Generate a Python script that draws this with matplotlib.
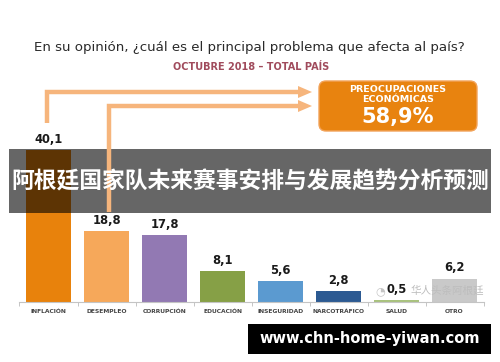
import matplotlib
matplotlib.use("Agg")
import matplotlib.pyplot as plt
from matplotlib.patches import FancyBboxPatch, Rectangle, Polygon

plt.rcParams["font.family"] = ["DejaVu Sans", "Noto Sans CJK SC"]

# ---------------------------------------------------------------------------
# Data
# ---------------------------------------------------------------------------
categories = ["INFLACIÓN", "DESEMPLEO", "CORRUPCIÓN", "EDUCACIÓN",
              "INSEGURIDAD", "NARCOTRÁFICO", "SALUD", "OTRO"]
values = [40.1, 18.8, 17.8, 8.1, 5.6, 2.8, 0.5, 6.2]
value_labels = ["40,1", "18,8", "17,8", "8,1", "5,6", "2,8", "0,5", "6,2"]
bar_colors = ["#E8820C", "#F6A85A", "#9279B3", "#86A046",
              "#5B9AD0", "#2C5A92", "#A9C27E", "#C9C9C9"]

title = "En su opinión, ¿cuál es el principal problema que afecta al país?"
subtitle = "OCTUBRE 2018 – TOTAL PAÍS"
box_lines = ["PREOCUPACIONES", "ECONÓMICAS"]
box_value = "58,9%"
banner = "阿根廷国家队未来赛事安排与发展趋势分析预测"
watermark = "华人头条阿根廷"
site = "www.chn-home-yiwan.com"

W, H = 500, 362
fig = plt.figure(figsize=(W / 100, H / 100), dpi=100)
fig.patch.set_facecolor("white")


def px(x0, y0, x1, y1):
    """Pixel box (top-left origin) -> figure fraction rect."""
    return [x0 / W, 1 - y1 / H, (x1 - x0) / W, (y1 - y0) / H]


# ---------------------------------------------------------------------------
# Bars
# ---------------------------------------------------------------------------
ax = fig.add_axes(px(19.5, 113, 483.5, 302))
xs = range(len(categories))
ax.bar(xs, values, width=0.78, color=bar_colors, zorder=2)
ax.set_xlim(-0.5, len(categories) - 0.5)
ax.set_ylim(0, 50)
for x, v, lab in zip(xs, values, value_labels):
    ax.annotate(lab, (x, v), xytext=(0, 3), textcoords="offset points",
                ha="center", va="bottom", fontsize=8.3, fontweight="bold",
                color="#1a1a1a")
ax.set_xticks(list(xs))
ax.set_xticklabels(categories, fontsize=4.3, fontweight="bold", color="#444444")
ax.tick_params(axis="x", which="major", length=0, pad=5)
ax.set_xticks([i - 0.5 for i in range(len(categories) + 1)], minor=True)
ax.tick_params(axis="x", which="minor", length=3, color="#bbbbbb", direction="out")
ax.set_yticks([])
for s in ("top", "left", "right"):
    ax.spines[s].set_visible(False)
ax.spines["bottom"].set_color("#c4c4c4")
ax.spines["bottom"].set_linewidth(0.8)
ax.patch.set_alpha(0)

# ---------------------------------------------------------------------------
# Overlay in pixel coordinates
# ---------------------------------------------------------------------------
ov = fig.add_axes([0, 0, 1, 1], zorder=5)
ov.set_xlim(0, W)
ov.set_ylim(H, 0)
ov.axis("off")
ov.patch.set_alpha(0)

ov.text(249, 48, title, ha="center", va="center", fontsize=9.6, color="#2a2a2a")
ov.text(251, 67, subtitle, ha="center", va="center", fontsize=7,
        fontweight="bold", color="#A04B5C")

arrow_c = "#F6B57C"
ov.plot([47, 47, 302], [123, 92, 92], color=arrow_c, lw=3.2,
        solid_capstyle="butt", solid_joinstyle="miter")
ov.plot([109, 109, 302], [212, 106, 106], color=arrow_c, lw=3.2,
        solid_capstyle="butt", solid_joinstyle="miter")
for yy in (92, 106):
    ov.add_patch(Polygon([[298, yy - 6], [312, yy], [298, yy + 6]],
                         closed=True, color=arrow_c, lw=0))

ov.add_patch(FancyBboxPatch((319, 81), 158, 50, boxstyle="round,pad=0,rounding_size=7",
                            facecolor="#E8830F", edgecolor="#F2A35A", lw=1))
ov.text(398, 89, box_lines[0], ha="center", va="center", fontsize=6.8,
        fontweight="bold", color="white")
ov.text(398, 99.5, box_lines[1], ha="center", va="center", fontsize=6.8,
        fontweight="bold", color="white")
ov.text(398, 117, box_value, ha="center", va="center", fontsize=15,
        fontweight="bold", color="white")

ov.text(380, 291, "◔", ha="center", va="center", fontsize=8, color="#c4c4c4")
ov.text(411, 291, watermark, ha="left", va="center", fontsize=7.6,
        color="#bdbdbd", family=["Noto Sans CJK SC", "DejaVu Sans"])

# banner
ov.add_patch(Rectangle((9, 149), 482, 64, facecolor="black", alpha=0.6, lw=0))
ov.text(250, 182, banner, ha="center", va="center", fontsize=16.4,
        fontweight="bold", color="white", family=["Noto Sans CJK SC", "DejaVu Sans"])

# site box
ov.add_patch(Rectangle((248, 324), 243, 30, facecolor="black", lw=0))
ov.text(370, 339, site, ha="center", va="center", fontsize=10.5,
        fontweight="bold", color="white")

fig.savefig("out.png", dpi=100)
